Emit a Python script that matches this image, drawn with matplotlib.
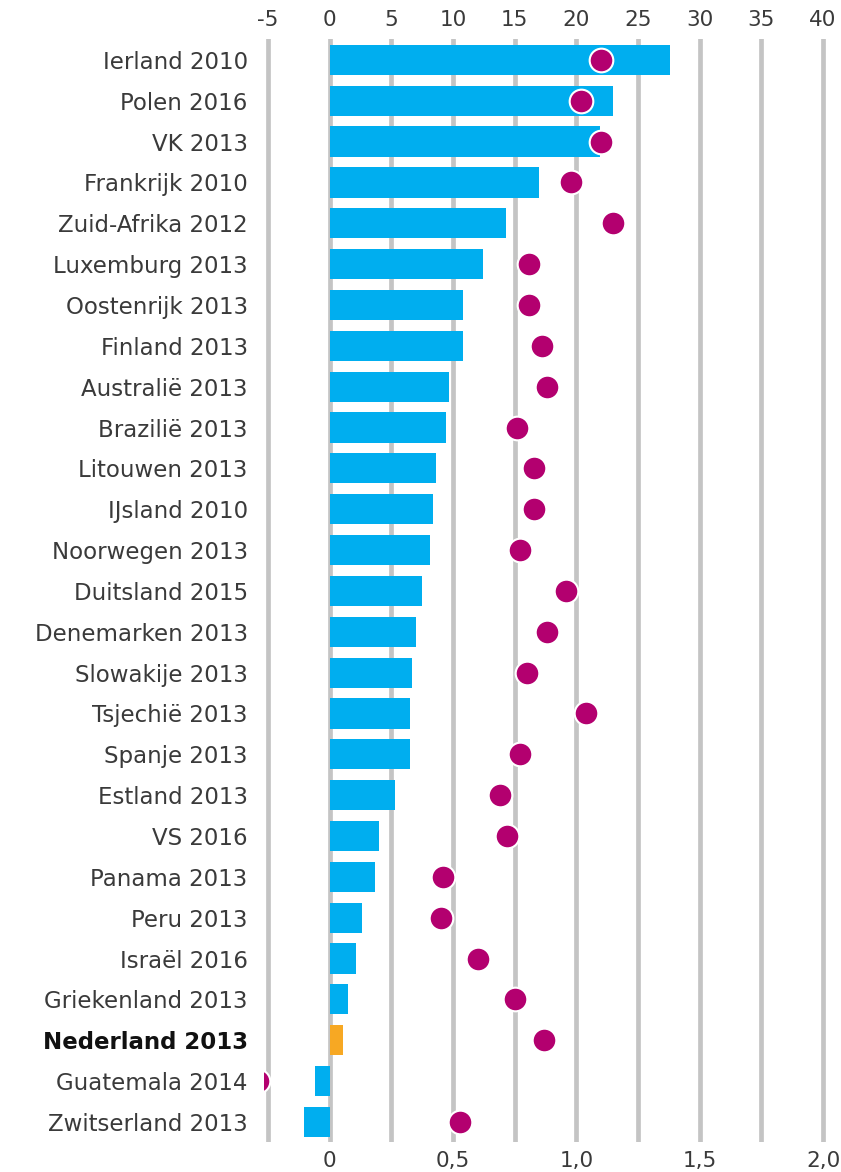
import matplotlib
matplotlib.use("Agg")
import matplotlib.pyplot as plt

plt.rcParams['font.family'] = ['DejaVu Sans']

countries = ["Ierland 2010", "Polen 2016", "VK 2013", "Frankrijk 2010", "Zuid-Afrika 2012",
             "Luxemburg 2013", "Oostenrijk 2013", "Finland 2013", "Australië 2013", "Brazilië 2013",
             "Litouwen 2013", "IJsland 2010", "Noorwegen 2013", "Duitsland 2015", "Denemarken 2013",
             "Slowakije 2013", "Tsjechië 2013", "Spanje 2013", "Estland 2013", "VS 2016",
             "Panama 2013", "Peru 2013", "Israël 2016", "Griekenland 2013", "Nederland 2013",
             "Guatemala 2014", "Zwitserland 2013"]
bar_values = [27.6, 23.0, 21.9, 17.0, 14.3, 12.4, 10.8, 10.8, 9.7, 9.4,
              8.6, 8.4, 8.1, 7.5, 7.0, 6.7, 6.5, 6.5, 5.3, 4.0,
              3.7, 2.6, 2.1, 1.5, 1.1, -1.2, -2.1]
dot_values = [1.10, 1.02, 1.10, 0.98, 1.15, 0.81, 0.81, 0.86, 0.88, 0.76,
              0.83, 0.83, 0.77, 0.96, 0.88, 0.80, 1.04, 0.77, 0.69, 0.72,
              0.46, 0.45, 0.60, 0.75, 0.87, -0.29, 0.53]
highlight = "Nederland 2013"
top_ticks = [-5, 0, 5, 10, 15, 20, 25, 30, 35, 40]
bottom_ticks = [0, 0.5, 1.0, 1.5, 2.0]
bottom_labels = ["0", "0,5", "1,0", "1,5", "2,0"]

BLUE = "#00aeef"
ORANGE = "#f7a823"
DOT = "#b3006f"
GRID = "#c4c4c4"
TEXT = "#3a3a3a"

fig = plt.figure(figsize=(8.41, 11.72), dpi=100)
ax = fig.add_axes([0.3143, 0.0253, 0.6687, 0.941])
xmin, xmax = -5.3, 40.3
ax.set_xlim(xmin, xmax)
ax.set_ylim(len(countries) - 0.5, -0.5)

for t in top_ticks:
    ax.axvline(t, color=GRID, lw=3.4, zorder=0)

y = list(range(len(countries)))
colors = [ORANGE if c == highlight else BLUE for c in countries]
ax.barh(y, bar_values, height=0.74, color=colors, zorder=2)

ax2 = ax.twiny()
ax2.set_xlim(xmin / 20, xmax / 20)
ax2.scatter(dot_values, y, s=290, color=DOT, edgecolor="white", linewidth=1.5, zorder=3)

ax.xaxis.tick_top()
ax.set_xticks(top_ticks)
ax.set_xticklabels([str(t) for t in top_ticks], fontsize=15.5, color=TEXT)
ax.tick_params(axis='x', length=0, pad=7)
ax.set_yticks(y)
ax.set_yticklabels(countries, fontsize=16.5, color=TEXT)
ax.tick_params(axis='y', length=0, pad=12)
for lbl in ax.get_yticklabels():
    if lbl.get_text() == highlight:
        lbl.set_fontweight("bold")
        lbl.set_color("#111111")

ax2.xaxis.tick_bottom()
ax2.set_xticks(bottom_ticks)
ax2.set_xticklabels(bottom_labels, fontsize=15.5, color=TEXT)
ax2.tick_params(axis='x', length=0, pad=6)
ax2.set_ylim(ax.get_ylim())

for a in (ax, ax2):
    for s in a.spines.values():
        s.set_visible(False)

fig.savefig("out.png", dpi=100)
